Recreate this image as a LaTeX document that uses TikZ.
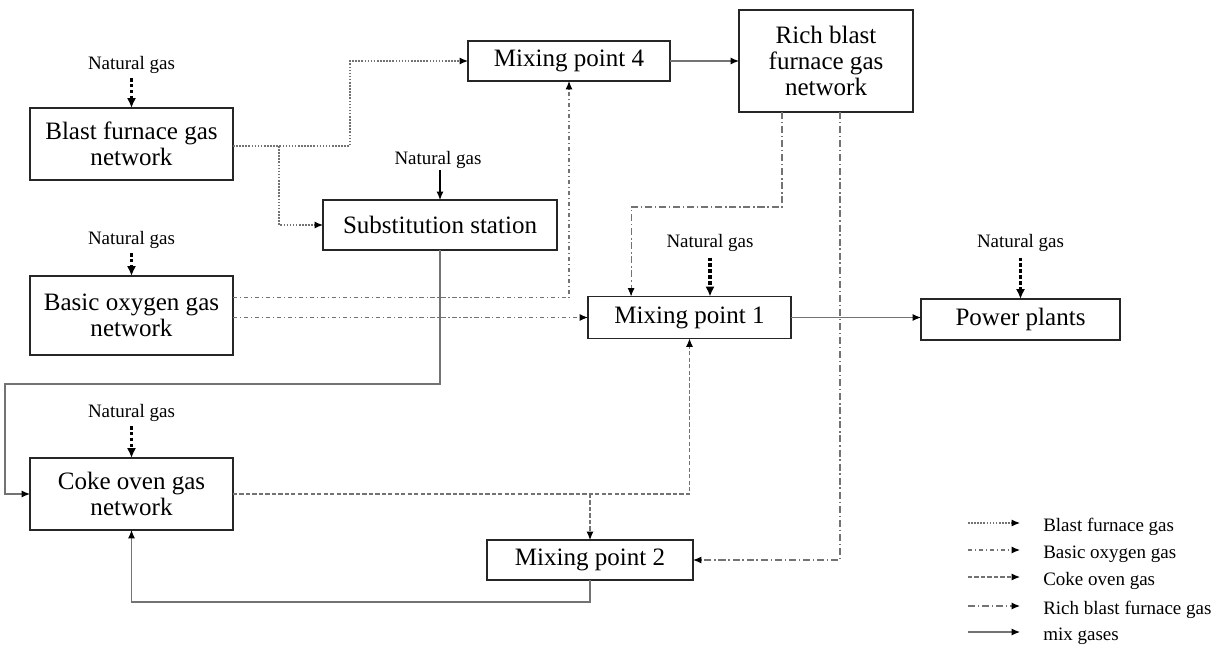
\documentclass[tikz,border=0pt]{standalone}
\usepackage{fontspec}
\setmainfont{Liberation Serif}
\usetikzlibrary{arrows.meta}

\tikzset{
  unit/.style={draw=black!85, line width=1.3pt, outer sep=0pt, inner sep=0pt,
    align=center, font=\fontsize{17.8pt}{18.8pt}\selectfont},
  ngas/.style={inner sep=0pt, font=\fontsize{13.5pt}{14pt}\selectfont},
  keytext/.style={inner sep=0pt, anchor=west, font=\fontsize{13.5pt}{14pt}\selectfont},
  feed/.style={line width=2.2pt, dash pattern=on 2.4pt off 1.8pt,
    -{Latex[length=7pt,width=6.5pt]}},
  pipe/.style={black!55, line width=0.75pt, -{Latex[length=6pt,width=5pt,color=black]}},
  bfgline/.style={pipe, dash pattern=on 1.1pt off 1.1pt},
  bogline/.style={pipe, dash pattern=on 3pt off 2pt on 0.8pt off 2pt},
  cogline/.style={pipe, dash pattern=on 3pt off 1.6pt},
  rbfgline/.style={pipe, dash pattern=on 5pt off 2pt on 1pt off 2pt},
  mixline/.style={pipe}
}

\begin{document}
\begin{tikzpicture}[x=0.025cm, y=-0.025cm]

    % Frame of the picture
    \useasboundingbox (0,0) rectangle (1227,649);

    % Gas networks and mixing points
    \node[unit, minimum width=5.075cm, minimum height=1.8cm] (bfg) at (131.5,144) {Blast furnace gas\\network};
    \node[unit, minimum width=5.075cm, minimum height=1.975cm] (bog) at (131.5,315.5) {Basic oxygen gas\\network};
    \node[unit, minimum width=5.075cm, minimum height=1.8cm] (cog) at (131.5,494) {Coke oven gas\\network};
    \node[unit, minimum width=5.05cm, minimum height=1.0cm] (mp4) at (569,61) {Mixing point 4};
    \node[unit, minimum width=4.35cm, minimum height=2.55cm] (rbfg) at (826,61) {Rich blast\\furnace gas\\network};
    \node[unit, minimum width=5.85cm, minimum height=1.25cm] (ss) at (440,225) {Substitution station};
    \node[unit, minimum width=5.075cm, minimum height=1.05cm] (mp1) at (689.5,317.5) {Mixing point 1};
    \node[unit, minimum width=4.975cm, minimum height=1.025cm] (pp) at (1020.5,319.5) {Power plants};
    \node[unit, minimum width=5.15cm, minimum height=1.0cm] (mp2) at (590,560) {Mixing point 2};

    % Natural gas supplies
    \node[ngas] (ngbfg) at (131.5,65) {Natural gas};
    \node[ngas] (ngss) at (438,160) {Natural gas};
    \node[ngas] (ngbog) at (131.5,240) {Natural gas};
    \node[ngas] (ngmp1) at (710,243) {Natural gas};
    \node[ngas] (ngpp) at (1020.5,243) {Natural gas};
    \node[ngas] (ngcog) at (131.5,413) {Natural gas};

    \draw[feed, shorten <=3pt] (ngbfg.south) -- (bfg.north);
    \draw[mixline, black, shorten <=1pt] (ngss.south -| ss.north) -- (ss.north);
    \draw[feed, shorten <=3pt] (ngbog.south) -- (bog.north);
    \draw[feed, shorten <=4pt] (ngmp1.south) -- (ngmp1.south |- mp1.north);
    \draw[feed, shorten <=4pt] (ngpp.south) -- (pp.north);
    \draw[feed, shorten <=3pt] (ngcog.south) -- (cog.north);

    % Blast furnace gas
    \coordinate (bfgup) at (350,146);
    \coordinate (bfgdown) at (279,146);
    \draw[bfgline] (bfg.east |- bfgup) -- (bfgup) |- (mp4.west);
    \draw[bfgline] (bfgdown) |- (ss.west);

    % Basic oxygen gas
    \draw[bogline] ([yshift=0.44cm]bog.east) -| (mp4.south);
    \draw[bogline] (bog.east |- mp1.west) -- (mp1.west);

    % Coke oven gas
    \coordinate (cogsplit) at (mp2.north |- cog.east);
    \draw[cogline] (cog.east) -| (mp1.south);
    \draw[cogline] (cogsplit) -- (mp2.north);

    % Rich blast furnace gas
    \coordinate (rbfgknee) at (782,207);
    \coordinate (rbfgdrop) at (840,560);
    \draw[rbfgline] (rbfg.south -| rbfgknee) -- (rbfgknee) -| ([xshift=-1.46cm]mp1.north);
    \draw[rbfgline] (rbfg.south -| rbfgdrop) -- (rbfgdrop) -- (mp2.east);

    % Mix gases
    \coordinate (ssbend) at (5,384);
    \coordinate (mp2bend) at (590,602);
    \draw[mixline] (mp4.east) -- (rbfg.west |- mp4.east);
    \draw[mixline] (mp1.east) -- (pp.west |- mp1.east);
    \draw[mixline] (ss.south) |- (ssbend) |- (cog.west);
    \draw[mixline] (mp2.south) -- (mp2bend) -| (cog.south);

    % Legend
    \coordinate (key1) at (968,523);
    \coordinate (key2) at (968,550);
    \coordinate (key3) at (968,577);
    \coordinate (key4) at (968,606);
    \coordinate (key5) at (968,632);
    \draw[bfgline] (key1) -- ++(52,0);
    \draw[bogline] (key2) -- ++(52,0);
    \draw[cogline] (key3) -- ++(52,0);
    \draw[rbfgline] (key4) -- ++(52,0);
    \draw[mixline] (key5) -- ++(52,0);
    \node[keytext] (txt1) at (1043,527) {Blast furnace gas};
    \node[keytext] (txt2) at (1043,554) {Basic oxygen gas};
    \node[keytext] (txt3) at (1043,581) {Coke oven gas};
    \node[keytext] (txt4) at (1043,610) {Rich blast furnace gas};
    \node[keytext] (txt5) at (1043,636) {mix gases};

\end{tikzpicture}
\end{document}
